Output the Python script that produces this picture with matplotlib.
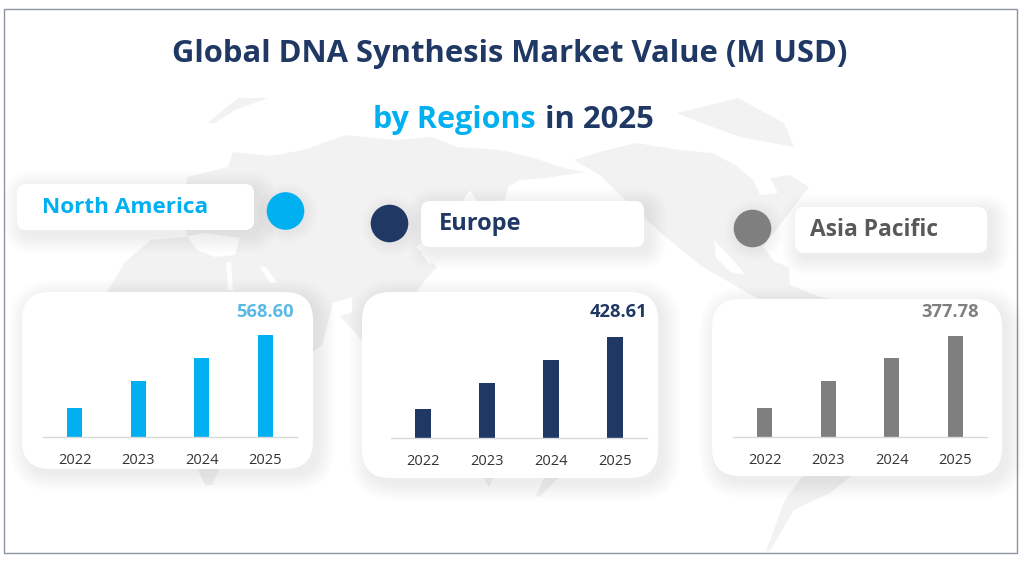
import matplotlib
matplotlib.use('Agg')
import matplotlib.pyplot as plt
from matplotlib.patches import FancyBboxPatch, Circle, Polygon, Rectangle

W, H = 1024, 567

years = ['2022', '2023', '2024', '2025']
na_values = [162.2, 315.1, 441.8, 568.60]
eu_values = [123.1, 236.2, 332.4, 428.61]
ap_values = [107.8, 210.6, 293.6, 377.78]

CYAN = '#00B0F0'
NAVY = '#1F3864'
GREY = '#7F7F7F'
MAP = '#F2F2F3'

plt.rcParams['font.family'] = ['Open Sans', 'DejaVu Sans']

# faint world map behind everything, in pixels
land = [
    # africa + eurasia
    [(107, 292), (125, 262), (151, 240), (172, 238), (187, 237), (183, 205), (187, 177), (228, 167), (233, 152),
     (270, 156), (304, 150), (345, 135), (395, 140), (432, 137), (457, 147), (500, 150), (534, 158), (560, 167),
     (585, 172), (545, 178), (520, 180), (508, 187), (505, 200), (478, 203), (470, 190), (445, 225), (416, 247),
     (437, 267), (425, 280), (416, 293), (416, 400), (340, 316), (352, 312), (352, 297), (333, 303), (322, 345),
     (250, 400), (107, 400)],
    # scandinavia-ish islands at the top
    [(207, 123), (238, 98), (268, 98), (235, 110), (215, 123)],
    # north america down to central america
    [(574, 160), (600, 152), (636, 143), (680, 150), (712, 153), (735, 165), (753, 180), (760, 195), (778, 193),
     (770, 178), (790, 175), (809, 187), (795, 205), (780, 225), (763, 247), (775, 262), (789, 267), (790, 285),
     (820, 297), (850, 303), (780, 310), (748, 293), (700, 265), (661, 233), (620, 195), (600, 175)],
    # greenland
    [(677, 113), (738, 98), (784, 123), (794, 147), (740, 137), (702, 123)],
    # south america tail
    [(807, 470), (858, 470), (830, 493), (794, 510), (770, 551), (766, 551), (785, 500)],
    # tips showing under the cards
    [(197, 468), (220, 468), (212, 485), (205, 485)],
    [(483, 476), (494, 476), (489, 488)],
    [(545, 476), (560, 476), (540, 497), (536, 496)],
]
# seas cut back out of the land
seas = [
    [(187, 236), (205, 233), (240, 238), (235, 255), (215, 257), (197, 250)],
    [(226, 262), (231, 262), (233, 290), (228, 290)],
    [(260, 267), (266, 267), (277, 283), (270, 283)],
    [(425, 232), (445, 240), (430, 265), (422, 255)],
    [(714, 240), (735, 262), (745, 275), (730, 272), (716, 258)],
]

panels = [
    dict(name='North America', color=CYAN, name_color=CYAN, values=na_values, value_color='#5BB9E6',
         card=(22, 292, 313, 469), tag=(17, 184, 254, 230), dot=(285.5, 211), name_x=42, name_size=16.2,
         axis=(43, 297), base=437.3, top=335.3, label_x=265),
    dict(name='Europe', color=NAVY, name_color=NAVY, values=eu_values, value_color=NAVY,
         card=(362, 292, 658, 478), tag=(421, 201, 644, 247), dot=(389.5, 223.5), name_x=439, name_size=17,
         axis=(391, 647), base=438.3, top=337.3, label_x=619),
    dict(name='Asia Pacific', color=GREY, name_color='#595959', values=ap_values, value_color=GREY,
         card=(712, 299, 1002, 476), tag=(795, 207, 987, 253), dot=(752.5, 228.5), name_x=810, name_size=16.4,
         axis=(733, 987), base=437.3, top=335.7, label_x=950),
]


def shadow_box(ax, x0, y0, x1, y1, radius):
    # soft shadow is just a stack of very faint boxes
    for grow in range(18, 0, -1):
        ax.add_patch(FancyBboxPatch((x0 + 5, y0 + 5), x1 - x0, y1 - y0,
                                    boxstyle=f'round,pad={grow},rounding_size={radius + grow}',
                                    fc='#808080', ec='none', alpha=0.004, zorder=3))
    ax.add_patch(FancyBboxPatch((x0 + radius, y0 + radius), x1 - x0 - 2 * radius, y1 - y0 - 2 * radius,
                                boxstyle=f'round,pad={radius},rounding_size={radius}',
                                fc='white', ec='none', zorder=4))


fig = plt.figure(figsize=(W / 100, H / 100), dpi=100, facecolor='white')
bg = fig.add_axes([0, 0, 1, 1])
bg.set_xlim(0, W)
bg.set_ylim(H, 0)
bg.axis('off')

for shape in land:
    bg.add_patch(Polygon(shape, closed=True, fc=MAP, ec='none', zorder=1))
for shape in seas:
    bg.add_patch(Polygon(shape, closed=True, fc='white', ec='none', zorder=1.5))

bg.add_patch(Rectangle((3.5, 8.5), 1013.5, 544, fc='none', ec='#8C93A3', lw=1, zorder=2))

bg.text(510, 54, 'Global DNA Synthesis Market Value (M USD)', color=NAVY, fontsize=22.3, fontweight='bold',
        ha='center', va='center', zorder=6)
bg.text(373, 120, 'by Regions', color=CYAN, fontsize=22, fontweight='bold', ha='left', va='center', zorder=6)
bg.text(545, 120, 'in 2025', color=NAVY, fontsize=22.3, fontweight='bold', ha='left', va='center', zorder=6)

for p in panels:
    shadow_box(bg, *p['card'], 28)
    shadow_box(bg, *p['tag'], 9)
    for grow in range(12, 0, -1):
        bg.add_patch(Circle((p['dot'][0] + 2, p['dot'][1] + 2), 18.8 + grow, fc='#808080', ec='none',
                            alpha=0.005, zorder=3))
    bg.add_patch(Circle(p['dot'], 18.8, fc=p['color'], ec='none', zorder=5))
    bg.text(p['name_x'], (p['tag'][1] + p['tag'][3]) / 2 + 0.5, p['name'], color=p['name_color'],
            fontsize=p['name_size'], fontweight='bold', ha='left', va='center', zorder=6)
    bg.text(p['label_x'], 312, f"{p['values'][-1]:.2f}", color=p['value_color'], fontsize=13.2, fontweight='bold',
            ha='center', va='center', zorder=6)

    left, right = p['axis']
    ax = fig.add_axes([left / W, 1 - p['base'] / H, (right - left) / W, (p['base'] - p['top']) / H])
    ax.patch.set_alpha(0)
    ax.set_zorder(5)
    ax.bar(range(4), p['values'], width=0.24, color=p['color'])
    ax.set_xlim(-0.5, 3.5)
    ax.set_ylim(0, p['values'][-1])
    ax.set_xticks(range(4))
    ax.set_xticklabels(years, fontsize=10.5, color='#333333')
    ax.set_yticks([])
    ax.tick_params(axis='x', length=0, pad=11)
    for side in ['top', 'left', 'right']:
        ax.spines[side].set_visible(False)
    ax.spines['bottom'].set_color('#D9D9D9')
    ax.spines['bottom'].set_linewidth(1)

fig.savefig('out.png', dpi=100)
